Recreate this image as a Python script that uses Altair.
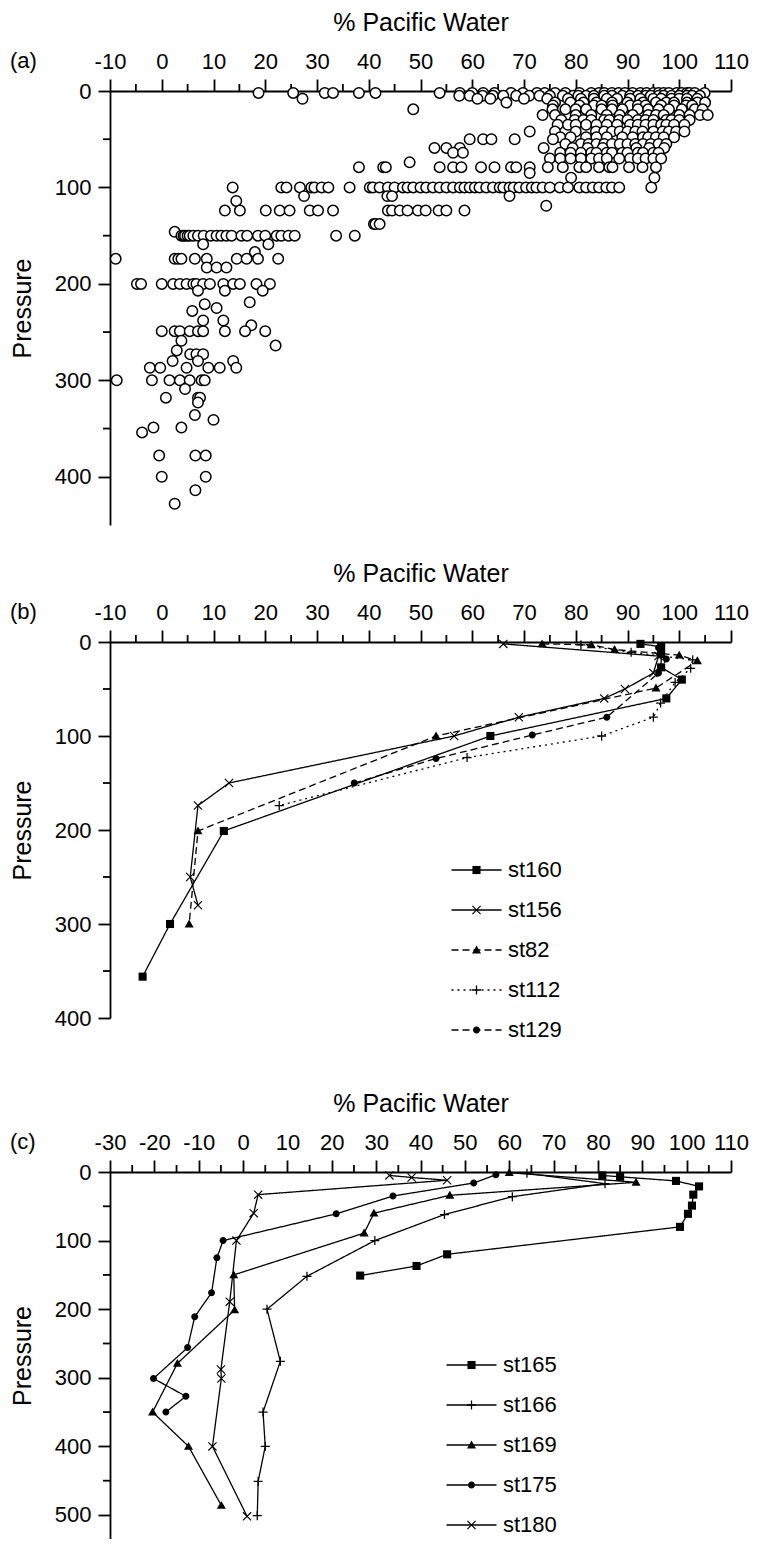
import altair as alt
import pandas as pd

FONT = "Liberation Sans"
LABEL_SIZE = 22
TITLE_SIZE = 25
AXIS_W = 1.8
PLOT_W = 621

panel_tags = ["(a)", "(b)", "(c)"]
x_title = "% Pacific Water"
y_title = "Pressure"

# ---------------- panel (a): scatter, grouped by pressure level ----------------
a_level_pressure = [2, 5, 8, 12, 15, 19, 25, 30, 35, 42, 48, 50, 55, 59, 64, 70, 74, 79, 85, 90,
                    100, 109, 114, 119, 124, 138, 146, 150, 159, 167, 174, 183, 200, 207, 219, 221,
                    225, 228, 238, 243, 249, 259, 264, 269, 273, 280, 287, 300, 309, 318, 323, 336,
                    341, 349, 354, 378, 400, 414, 428]
a_level_percent = [
    [18.7, 25.4, 31.5, 33.1, 38.1, 41.3, 53.7, 57.6, 60, 62.1, 64.3, 67.5, 69.8, 72.5, 74, 76, 78,
     80.7, 83, 84.5, 85.5, 87, 88.3, 89.5, 91, 92.5, 93.7, 95, 96, 97, 98, 99.5, 100.5, 101.5, 102,
     103, 104.9],
    [57.5, 59.5, 62, 64, 66, 68.5, 71, 73, 75, 77.5, 79.5, 80.5, 82, 83.5, 85.5, 87, 89, 90.5, 92,
     93.5, 94.5, 96, 97, 98.5, 100, 101.5, 102.5, 104],
    [27.2, 61, 63.5, 70, 74.5, 78.5, 81, 83.5, 86, 88, 90.5, 92.5, 95, 96.5, 98.5, 100, 101.5, 103.5],
    [66.6, 76, 79, 81.5, 84, 87, 90, 93, 95.5, 97.5, 99, 101.5, 103.5, 105],
    [75.6, 80.7, 83.5, 85, 87.1, 90.5, 92, 93.5, 96.5, 99, 101.3, 102.5],
    [48.6, 75.5, 78, 80, 82, 85, 87, 89, 92, 94, 96, 98, 100.5, 103, 104.5],
    [73.6, 76, 80, 83, 86, 88.5, 91, 94, 95.5, 97, 100, 102, 104, 105.5],
    [77.2, 79.8, 81.5, 83, 85.5, 86.5, 88.4, 90, 92, 93.5, 95, 97.5, 98.5, 100, 102],
    [76.5, 78.5, 80, 82, 84, 86, 88, 90.5, 92, 93.5, 95, 96.5, 97.5, 99, 101],
    [71.1, 76, 80, 83.9, 85.5, 87, 88.5, 90, 91.5, 92.9, 95, 96.8, 98, 99.4, 101],
    [77, 79, 82, 84, 86, 89, 91, 93, 94, 95.5, 97, 99],
    [59.5, 62.1, 63.7, 68.2, 75.6],
    [78, 81, 82.5, 84, 85.5, 87, 88.5, 90, 91.5, 93, 94.5, 96, 97.5],
    [52.7, 55, 57.6, 73.8, 79.4, 82.3, 85.2, 91.7, 94.2, 97.1],
    [56.3, 58.2, 77, 79, 81, 83, 84, 86, 87, 89, 90, 92, 93, 95, 96],
    [75, 77, 79, 81, 83, 84.5, 86, 88.4, 90.5, 92, 93.5, 95, 96.5],
    [47.9],
    [38.1, 42.8, 43.3, 53.7, 56.3, 57.9, 61.7, 64.3, 67.5, 68.5, 71.1, 74.6, 77.5, 80.7, 82, 84.5,
     86.5, 87.1, 90.3, 92.9, 95.5],
    [71.1],
    [79.1, 95.2],
    [13.7, 23.1, 24.1, 26.7, 28.9, 29.5, 30.9, 32.2, 36.3, 40.2, 40.8, 42.1, 43.7, 45, 46.6, 47.5,
     48.6, 50, 51.1, 52.4, 53.7, 55, 56.3, 57.6, 58.5, 59.5, 60.5, 61.4, 62.7, 64, 65.3, 66, 67.2,
     68, 69.1, 70.4, 71.5, 72.4, 73.6, 75, 76.9, 78.5, 80.7, 82, 83.3, 84.5, 85.9, 87, 88.4, 94.6],
    [27.5, 43.6, 44.5, 67.2],
    [14.4],
    [74.3],
    [12.2, 15.1, 20.1, 22.8, 24.7, 28.6, 30.2, 33.1, 43.7, 44.5, 46, 47.5, 49.5, 51, 53.5, 55, 58.5],
    [41, 41.3, 42.1],
    [2.5],
    [3.8, 4.2, 4.5, 5, 5.4, 6.1, 7, 8.1, 9.5, 10.6, 11.5, 12.5, 13.5, 15.4, 16.5, 18.6, 20, 22.2,
     23.1, 24.5, 25.7, 33.7, 37.3],
    [8, 20.6],
    [18],
    [-8.9, 2.5, 3.2, 3.8, 6.4, 8.7, 14.5, 16.4, 18.6, 22.5],
    [8.7, 10.6, 12.5],
    [-4.8, -4, 0, 2.2, 3.5, 4.8, 6.1, 6.7, 8, 9.3, 11.9, 13.8, 15.1, 18.3, 20.9],
    [7, 12.2, 19.5],
    [17],
    [8.3],
    [10.6],
    [5.9],
    [8, 11.9],
    [17.3],
    [0, 2.5, 3.5, 5.4, 7, 8, 12.2, 16.1, 20],
    [3.8],
    [22],
    [2.9],
    [5.5, 6.7, 8],
    [2.1, 7, 13.8],
    [-2.3, -0.3, 4.8, 9, 11.2, 14.4],
    [-8.7, -1.9, 1.5, 3.5, 5.4, 7.7, 8.3],
    [4.5],
    [0.8, 7, 7.4],
    [7],
    [6.4],
    [10],
    [-1.6, 3.8],
    [-3.8],
    [-0.5, 6.5, 8.5],
    [0, 8.5],
    [6.5],
    [2.5],
]

# ---------------- panel (b): station profiles ----------------
b_series = ["st160", "st156", "st82", "st112", "st129"]
b_st160_pct = [92.5, 96.5, 96.5, 96.5, 100.5, 97.5, 63.5, 12, 1.6, -3.7]
b_st160_p = [2, 5, 13, 27, 40, 60, 100, 201, 300, 356]
b_st156_pct = [66, 96, 95, 89.5, 85.5, 69, 56.5, 13, 7, 5.5, 7]
b_st156_p = [2, 15, 33, 50, 60, 80, 100, 150, 174, 250, 280]
b_st82_pct = [73.5, 83, 87.5, 100, 103.5, 95.5, 53, 7, 5.3]
b_st82_p = [2, 3, 8, 14, 20, 49, 100, 201, 300]
b_st112_pct = [81, 90.7, 102.6, 102.2, 99.2, 96.4, 95, 85, 59, 22.7]
b_st112_p = [3, 11, 19, 28, 43, 65, 80, 100, 123, 174]
b_st129_pct = [96, 97.5, 96, 86, 71.6, 53, 37.2]
b_st129_p = [6, 18, 33, 80, 99, 124, 150]

# ---------------- panel (c): station profiles ----------------
c_series = ["st165", "st166", "st169", "st175", "st180"]
c_st165_pct = [81, 85, 97.6, 102.8, 101.5, 101.2, 100.3, 98.5, 46, 39.1, 26.4]
c_st165_p = [5, 7, 13, 21, 33, 49, 61, 80, 120, 137, 151]
c_st166_pct = [64, 81.6, 60.7, 45.4, 29.7, 14.4, 5.4, 8.4, 4.5, 5, 3.4, 3.2]
c_st166_p = [2, 17, 36, 62, 100, 152, 200, 276, 350, 400, 451, 501]
c_st169_pct = [60, 88.6, 46.6, 29.5, 27.3, -2.1, -1.9, -14.8, -20.4, -12.3, -4.9]
c_st169_p = [1, 15, 34, 60, 89, 150, 201, 279, 350, 400, 486]
c_st175_pct = [57, 52, 33.8, 21, -4.5, -5.9, -7.1, -10.9, -12.5, -20.2, -12.9, -17.4]
c_st175_p = [4, 16, 35, 61, 100, 125, 176, 211, 256, 301, 327, 350]
c_st180_pct = [33, 38, 46, 3.4, 2.4, -1.5, -3, -5, -4.9, -6.9, 0.9]
c_st180_p = [5, 8, 12, 33, 60, 100, 189, 288, 301, 400, 502]

# ---------------- axis ticks ----------------
ab_x_major = list(range(-10, 111, 10))
ab_x_minor = list(range(-5, 110, 10))
c_x_major = list(range(-30, 111, 10))
c_x_minor = list(range(-25, 110, 10))
a_y_major = [0, 100, 200, 300, 400]
a_y_minor = [50, 150, 250, 350]
b_y_major = [0, 100, 200, 300, 400]
b_y_minor = [50, 150, 250, 350]
c_y_major = [0, 100, 200, 300, 400, 500]
c_y_minor = [50, 150, 250, 350, 450]

# ---------------- marker / line styles ----------------
SQUARE = "M-0.9,-0.9H0.9V0.9H-0.9Z"
TRIANGLE = "M0,-1L1,0.75H-1Z"
CIRCLE = "M0.78,0A0.78,0.78,0,1,1,-0.78,0A0.78,0.78,0,1,1,0.78,0Z"
PLUS = "M-1,-0.14H1V0.14H-1ZM-0.14,-1H0.14V1H-0.14Z"
CROSS = "M-0.82,-1L1,0.82L0.82,1L-1,-0.82ZM0.82,-1L1,-0.82L-0.82,1L-1,0.82Z"
LEGEND_LINE = "M-5.56,0H5.56"   # 50 px wide at size 81

b_shapes = [SQUARE, CROSS, TRIANGLE, PLUS, CIRCLE]
b_dashes = [[1, 0], [1, 0], [7, 4], [2, 4], [7, 4]]
c_shapes = [SQUARE, PLUS, TRIANGLE, CIRCLE, CROSS]
c_dashes = [[1, 0], [1, 0], [1, 0], [1, 0], [1, 0]]


# ---------------- frames ----------------
def scatter_frame():
    rows = []
    for p, xs in zip(a_level_pressure, a_level_percent):
        for x in xs:
            rows.append({"pct": x, "p": p})
    return pd.DataFrame(rows)


def series_frame(names, pcts, ps, sfield, mfield):
    rows = []
    for name, xs, ys in zip(names, pcts, ps):
        for i, (x, y) in enumerate(zip(xs, ys)):
            rows.append({sfield: name, mfield: name, "idx": i, "pct": x, "p": y})
    return pd.DataFrame(rows)


df_a = scatter_frame()
df_b = series_frame(b_series,
                    [b_st160_pct, b_st156_pct, b_st82_pct, b_st112_pct, b_st129_pct],
                    [b_st160_p, b_st156_p, b_st82_p, b_st112_p, b_st129_p],
                    "series_b", "mk_b")
df_c = series_frame(c_series,
                    [c_st165_pct, c_st166_pct, c_st169_pct, c_st175_pct, c_st180_pct],
                    [c_st165_p, c_st166_p, c_st169_p, c_st175_p, c_st180_p],
                    "series_c", "mk_c")


# ---------------- helpers ----------------
def x_enc(field, dom, major):
    return alt.X(field, type="quantitative",
                 scale=alt.Scale(domain=dom, nice=False, zero=False),
                 axis=alt.Axis(orient="top", values=major, title=x_title,
                               labelExpr="'' + datum.value", tickSize=12, tickWidth=AXIS_W,
                               domainWidth=AXIS_W, labelPadding=6, titlePadding=15,
                               labelFlush=False, labelOverlap=False, grid=False))


def y_enc(field, dom, major):
    return alt.Y(field, type="quantitative",
                 scale=alt.Scale(domain=dom, nice=False, zero=False, reverse=True),
                 axis=alt.Axis(orient="left", values=major, title=y_title,
                               labelExpr="'' + datum.value", tickSize=12, tickWidth=AXIS_W,
                               domainWidth=AXIS_W, labelPadding=7, titlePadding=19,
                               labelFlush=False, labelOverlap=False, grid=False))


def minor_layers(xdom, xmajor, xminor, ydom, ymajor, yminor):
    mx = alt.Chart(pd.DataFrame({"v": xminor})).mark_rule(
        color="black", strokeWidth=AXIS_W).encode(
        x=x_enc("v", xdom, xmajor), y=alt.value(0), y2=alt.value(-7))
    my = alt.Chart(pd.DataFrame({"v": yminor})).mark_rule(
        color="black", strokeWidth=AXIS_W).encode(
        y=y_enc("v", ydom, ymajor), x=alt.value(0), x2=alt.value(-7))
    return [mx, my]


def tag_layer(tag):
    return alt.Chart(pd.DataFrame({"t": [tag]})).mark_text(
        align="left", baseline="middle", font=FONT, fontSize=LABEL_SIZE, color="black").encode(
        x=alt.value(-100), y=alt.value(-30), text="t:N")


def profile_panel(df, sfield, mfield, names, shapes, dashes, xdom, xmajor, xminor,
                  ydom, ymajor, yminor, height, leg_x, leg_y, tag):
    X = x_enc("pct", xdom, xmajor)
    Y = y_enc("p", ydom, ymajor)
    common = dict(orient="none", legendX=leg_x, legendY=leg_y, title=None, symbolSize=81,
                  labelFont=FONT, labelFontSize=LABEL_SIZE, labelOffset=20.5,
                  rowPadding=18, padding=0, labelLimit=300)
    legend_lines = alt.Legend(symbolType=LEGEND_LINE, symbolStrokeWidth=1.3,
                              symbolStrokeColor="black", labelColor="black", **common)
    legend_marks = alt.Legend(symbolFillColor="black", symbolStrokeWidth=0,
                              labelColor="transparent", **common)
    lines = alt.Chart(df).mark_line(color="black", strokeWidth=1.3).encode(
        x=X, y=Y, order="idx:Q",
        strokeDash=alt.StrokeDash(f"{sfield}:N", sort=names, scale=alt.Scale(range=dashes),
                                  legend=legend_lines))
    pts = alt.Chart(df).mark_point(filled=True, color="black", size=81, opacity=1).encode(
        x=X, y=Y,
        shape=alt.Shape(f"{mfield}:N", sort=names, scale=alt.Scale(range=shapes),
                        legend=legend_marks))
    layers = minor_layers(xdom, xmajor, xminor, ydom, ymajor, yminor) + [lines, pts, tag_layer(tag)]
    return alt.layer(*layers).properties(width=PLOT_W, height=height)


# ---------------- panel (a) ----------------
a_xdom = [-10, 110]
a_ydom = [0, 450]
pa_points = alt.Chart(df_a).mark_point(shape="circle", size=110, filled=False, fill="white",
                                        stroke="black", strokeWidth=1.5, opacity=1).encode(
    x=x_enc("pct", a_xdom, ab_x_major), y=y_enc("p", a_ydom, a_y_major))
panel_a = alt.layer(*(minor_layers(a_xdom, ab_x_major, ab_x_minor, a_ydom, a_y_major, a_y_minor)
                      + [pa_points, tag_layer(panel_tags[0])])).properties(width=PLOT_W, height=434)

panel_b = profile_panel(df_b, "series_b", "mk_b", b_series, b_shapes, b_dashes,
                        [-10, 110], ab_x_major, ab_x_minor, [0, 400], b_y_major, b_y_minor,
                        376, 355.5, 217, panel_tags[1])
panel_c = profile_panel(df_c, "series_c", "mk_c", c_series, c_shapes, c_dashes,
                        [-30, 110], c_x_major, c_x_minor, [0, 535], c_y_major, c_y_minor,
                        367, 350.5, 182, panel_tags[2])

top = alt.vconcat(panel_a, panel_b, spacing=36).resolve_scale(
    x="independent", y="independent", shape="independent", strokeDash="independent").resolve_legend(
    shape="independent", strokeDash="independent")
chart = alt.vconcat(top, panel_c, spacing=50).resolve_scale(
    x="independent", y="independent", shape="independent", strokeDash="independent").resolve_legend(
    shape="independent", strokeDash="independent").properties(
    padding={"left": 2, "top": 2, "right": 2, "bottom": 0})

chart = chart.configure_view(stroke=None).configure_axis(
    labelFont=FONT, titleFont=FONT, labelFontSize=LABEL_SIZE, titleFontSize=TITLE_SIZE,
    titleFontWeight="normal", labelColor="black", titleColor="black",
    domainColor="black", tickColor="black")

chart.save("out.html", embed_options={"renderer": "svg", "actions": False})
